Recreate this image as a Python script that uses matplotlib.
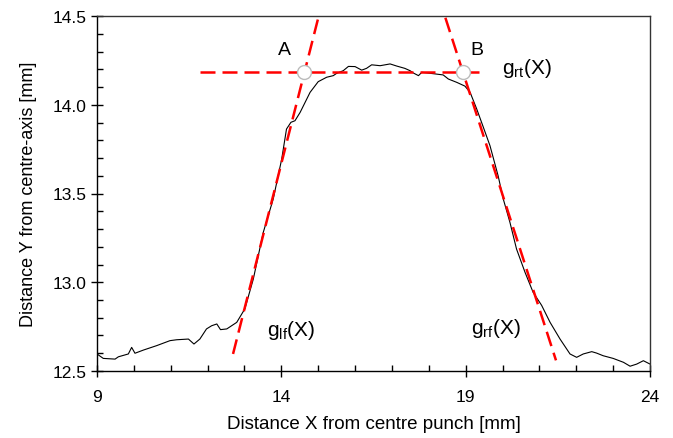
import matplotlib
matplotlib.use("Agg")
import matplotlib.pyplot as plt
from matplotlib.ticker import MultipleLocator

plt.rcParams['font.family'] = ['Liberation Sans', 'DejaVu Sans']
plt.rcParams['mathtext.fontset'] = 'custom'
plt.rcParams['mathtext.rm'] = 'Liberation Sans'
plt.rcParams['mathtext.it'] = 'Liberation Sans'

# profile data
profile_x = [9.00, 9.17, 9.49, 9.58, 9.85, 9.94, 10.03, 10.26, 10.62, 10.98, 11.16, 11.48,
             11.63, 11.79, 11.97, 12.11, 12.25, 12.35, 12.52, 12.79, 13.01, 13.24, 13.51,
             13.78, 14.01, 14.14, 14.26, 14.37, 14.51, 14.78, 15.00, 15.23, 15.41, 15.50,
             15.68, 15.82, 16.00, 16.18, 16.31, 16.45, 16.68, 16.95, 17.13, 17.35, 17.49,
             17.58, 17.72, 17.81, 18.12, 18.39, 18.53, 18.76, 18.98, 19.12, 19.30, 19.48,
             19.66, 19.88, 20.02, 20.20, 20.38, 20.61, 20.83, 21.06, 21.29, 21.56, 21.83,
             22.01, 22.19, 22.42, 22.55, 22.73, 23.00, 23.28, 23.46, 23.64, 23.82, 24.00]
profile_y = [12.596, 12.571, 12.567, 12.580, 12.596, 12.633, 12.600, 12.618, 12.643, 12.671,
             12.676, 12.680, 12.652, 12.680, 12.737, 12.755, 12.765, 12.733, 12.737, 12.774,
             12.850, 13.018, 13.281, 13.469, 13.694, 13.863, 13.901, 13.910, 13.957, 14.070,
             14.130, 14.155, 14.164, 14.177, 14.192, 14.216, 14.215, 14.195, 14.205, 14.225,
             14.220, 14.230, 14.218, 14.205, 14.192, 14.179, 14.164, 14.183, 14.175, 14.168,
             14.145, 14.126, 14.105, 14.070, 13.976, 13.873, 13.769, 13.600, 13.469, 13.338,
             13.187, 13.056, 12.943, 12.870, 12.774, 12.680, 12.596, 12.577, 12.596, 12.609,
             12.601, 12.586, 12.571, 12.549, 12.527, 12.539, 12.558, 12.539]

# fitted lines
g_lf_x = [12.69, 14.99]
g_lf_y = [12.596, 14.48]
g_rf_x = [18.45, 21.45]
g_rf_y = [14.49, 12.56]
g_rt_x = [11.8, 19.52]
g_rt_y = [14.185, 14.185]

# intersection points
pts_x = [14.61, 18.92]
pts_y = [14.185, 14.185]
pts_labels = ['A', 'B']

x_ticks = [9, 14, 19, 24]
y_ticks = [12.5, 13.0, 13.5, 14.0, 14.5]

fig = plt.figure(figsize=(6.73, 4.39), dpi=100)
ax = fig.add_axes([97/673, 67/439, 553/673, 355/439])

ax.plot(profile_x, profile_y, color='black', lw=0.8, zorder=2)
dash = (0, (6, 2.8))
for xs, ys in [(g_lf_x, g_lf_y), (g_rf_x, g_rf_y), (g_rt_x, g_rt_y)]:
    ax.plot(xs, ys, color='red', lw=1.8, linestyle=dash, zorder=3)
ax.plot(pts_x, pts_y, 'o', ms=10, mfc='white', mec='#bbbbbb', mew=1.0, zorder=4)

ax.text(14.08, 14.31, pts_labels[0], fontsize=14, ha='center', va='center')
ax.text(19.31, 14.31, pts_labels[1], fontsize=14, ha='center', va='center')
ax.text(19.98, 14.21, r'g$_{\mathrm{rt}}$(X)', fontsize=15, ha='left', va='center')
ax.text(13.62, 12.735, r'g$_{\mathrm{lf}}$(X)', fontsize=15, ha='left', va='center')
ax.text(19.15, 12.745, r'g$_{\mathrm{rf}}$(X)', fontsize=15, ha='left', va='center')

ax.set_xlim(9, 24)
ax.set_ylim(12.5, 14.5)
ax.set_xticks(x_ticks)
ax.set_yticks(y_ticks)
ax.set_yticklabels([f'{v:.1f}' for v in y_ticks])
ax.xaxis.set_minor_locator(MultipleLocator(1))
ax.yaxis.set_minor_locator(MultipleLocator(0.1))
ax.tick_params(which='major', direction='inout', length=8, width=1, labelsize=12.5)
ax.tick_params(which='minor', direction='in', length=4, width=1)
ax.tick_params(axis='x', pad=9)
for s in ax.spines.values():
    s.set_linewidth(1.0)
for s in ['top', 'right']:
    ax.spines[s].set_color('#333333')

ax.set_xlabel('Distance X from centre punch [mm]', fontsize=13.5, labelpad=8)
ax.set_ylabel('Distance Y from centre-axis [mm]', fontsize=13, labelpad=11)

fig.savefig('out.png', dpi=100)
